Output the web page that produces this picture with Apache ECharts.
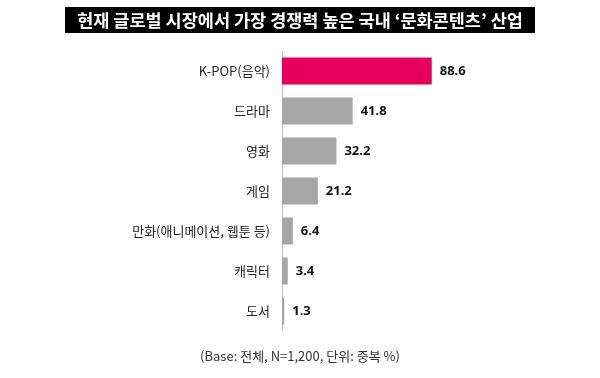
<!DOCTYPE html>
<html>
<head>
<meta charset="utf-8">
<script src="https://cdn.jsdelivr.net/npm/echarts@6/dist/echarts.min.js"></script>
<style>
  html, body { margin: 0; padding: 0; background: #fff; }
  #chart { width: 600px; height: 378px; }
</style>
</head>
<body>
<div id="chart"></div>
<script>
// 데이터
var titleText = '현재 글로벌 시장에서 가장 경쟁력 높은 국내 ‘문화콘텐츠’ 산업';
var noteText = '(Base: 전체, N=1,200, 단위: 중복 %)';
var categories = ['K-POP(음악)', '드라마', '영화', '게임', '만화(애니메이션, 웹툰 등)', '캐릭터', '도서'];
var values = [88.6, 41.8, 32.2, 21.2, 6.4, 3.4, 1.3];

var highlightColor = '#e6005c';
var baseColor = '#a6a6a6';

var myChart = echarts.init(document.getElementById('chart'));

var option = {
  backgroundColor: '#ffffff',
  animation: false,
  graphic: [
    {
      type: 'rect',
      shape: { x: 65, y: 7, width: 470, height: 26 },
      style: { fill: '#000000' }
    },
    {
      type: 'text',
      x: 300,
      y: 20,
      style: {
        text: titleText,
        fill: '#ffffff',
        font: 'bold 17.5px "Noto Sans CJK KR"',
        align: 'center',
        verticalAlign: 'middle'
      }
    },
    {
      type: 'text',
      x: 300,
      y: 356,
      style: {
        text: noteText,
        fill: '#333333',
        font: '13px "Noto Sans CJK KR"',
        align: 'center',
        verticalAlign: 'middle'
      }
    }
  ],
  grid: {
    left: 282,
    top: 51,
    width: 169,
    height: 280
  },
  xAxis: {
    type: 'value',
    min: 0,
    max: 100,
    show: false
  },
  yAxis: {
    type: 'category',
    data: categories,
    inverse: true,
    axisLine: { show: true, lineStyle: { color: '#bfbfbf', width: 1 } },
    axisTick: { show: false },
    axisLabel: {
      margin: 12,
      color: '#222222',
      fontSize: 13,
      fontFamily: 'Noto Sans CJK KR'
    }
  },
  series: [
    {
      type: 'bar',
      data: values.map(function (v, i) {
        return {
          value: v,
          itemStyle: { color: i === 0 ? highlightColor : baseColor }
        };
      }),
      barWidth: 27,
      label: {
        show: true,
        position: 'right',
        distance: 8,
        color: '#111111',
        fontSize: 13,
        fontWeight: 'bold',
        fontFamily: 'Noto Sans'
      }
    }
  ]
};

myChart.setOption(option);
</script>
</body>
</html>
